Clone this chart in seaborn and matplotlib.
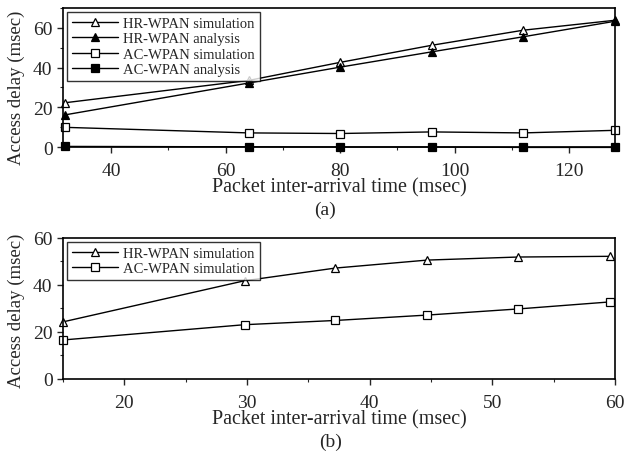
import matplotlib
matplotlib.use("Agg")
import matplotlib.pyplot as plt
import seaborn as sns
import pandas as pd
from matplotlib.ticker import MultipleLocator

sns.set_theme(style="ticks")
plt.rcParams['font.family'] = ['Liberation Serif', 'DejaVu Serif']

# (a) data
x_a = [32, 64, 80, 96, 112, 128]
hr_sim_a = [22.3, 33.5, 42.6, 51.2, 58.8, 63.8]
hr_ana_a = [16.2, 32.2, 40.2, 47.9, 55.5, 63.3]
ac_sim_a = [9.9, 7.1, 6.8, 7.6, 7.1, 8.4]
ac_ana_a = [0.3, 0.1, 0.0, 0.0, -0.2, -0.2]

# (b) data
x_b = [15, 29.8, 37.2, 44.7, 52.1, 59.6]
hr_sim_b = [24.3, 41.8, 47.2, 50.6, 51.9, 52.2]
ac_sim_b = [16.6, 23.1, 24.9, 27.2, 29.8, 32.8]

series_a = {
    "HR-WPAN simulation": (hr_sim_a, "^", "white"),
    "HR-WPAN analysis": (hr_ana_a, "^", "black"),
    "AC-WPAN simulation": (ac_sim_a, "s", "white"),
    "AC-WPAN analysis": (ac_ana_a, "s", "black"),
}
series_b = {
    "HR-WPAN simulation": (hr_sim_b, "^", "white"),
    "AC-WPAN simulation": (ac_sim_b, "s", "white"),
}

fig = plt.figure(figsize=(6.26, 4.56), dpi=100)
ax1 = fig.add_axes([0.1006, 0.6754, 0.8818, 0.305])
ax2 = fig.add_axes([0.1006, 0.1667, 0.8818, 0.3092])


def draw(ax, x, series):
    for name, (vals, mk, fc) in series.items():
        df = pd.DataFrame({"x": x, "y": vals})
        sns.lineplot(data=df, x="x", y="y", ax=ax, color="black", lw=1.0,
                     marker=mk, markersize=6, markerfacecolor=fc,
                     markeredgecolor="black", markeredgewidth=0.9,
                     label=name, clip_on=False)
    ax.set_ylabel("Access delay (msec)", fontsize=13.5, labelpad=2)
    ax.set_xlabel("Packet inter-arrival time (msec)", fontsize=14.5, labelpad=-1)
    ax.tick_params(labelsize=14, length=4.5, width=1, direction="out")
    ax.tick_params(axis="x", pad=6)
    ax.tick_params(axis="y", pad=3)
    ax.tick_params(which="minor", length=2.5, width=0.8, direction="out")
    for s in ax.spines.values():
        s.set_linewidth(1.2)
        s.set_color("black")
    leg = ax.legend(loc="upper left", fontsize=10.5, frameon=True, fancybox=False,
                    edgecolor="black", handlelength=3.2, borderpad=0.35,
                    labelspacing=0.15, borderaxespad=0.25, handletextpad=0.35)
    leg.get_frame().set_linewidth(1.0)


draw(ax1, x_a, series_a)
ax1.set_xlim(31.6, 128)
ax1.set_ylim(0, 70)
ax1.xaxis.set_major_locator(MultipleLocator(20))
ax1.xaxis.set_minor_locator(MultipleLocator(10))
ax1.yaxis.set_major_locator(MultipleLocator(20))
ax1.yaxis.set_minor_locator(MultipleLocator(10))
ax1.yaxis.set_label_coords(-0.068, 0.43)

draw(ax2, x_b, series_b)
ax2.set_xlim(15, 60)
ax2.set_ylim(0, 60)
ax2.xaxis.set_major_locator(MultipleLocator(10))
ax2.xaxis.set_minor_locator(MultipleLocator(5))
ax2.yaxis.set_major_locator(MultipleLocator(20))
ax2.yaxis.set_minor_locator(MultipleLocator(10))
ax2.yaxis.set_label_coords(-0.068, 0.49)

fig.text(325 / 626, 1 - 210 / 456, "(a)", ha="center", va="center", fontsize=14)
fig.text(331 / 626, 1 - 442 / 456, "(b)", ha="center", va="center", fontsize=14)

fig.savefig("out.png", dpi=100)
